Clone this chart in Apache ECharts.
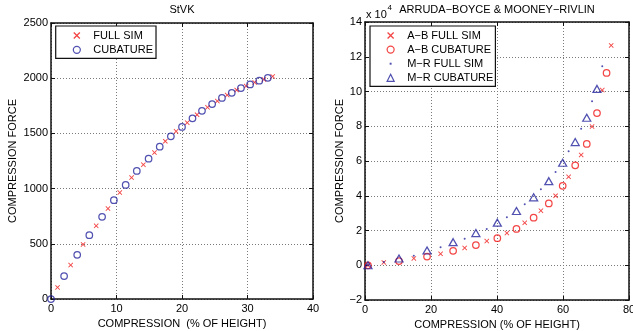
<!DOCTYPE html>
<html><head><meta charset="utf-8">
<script src="https://cdn.jsdelivr.net/npm/echarts@6/dist/echarts.min.js"></script>
<style>html,body{margin:0;padding:0;background:#fff}#c{width:633px;height:331px}</style>
</head><body><div id="c"></div>
<script>
// ---- StVK (left) ----
const stvkFullX = [1.0, 3.0, 4.9, 6.9, 8.7, 10.5, 12.3, 14.1, 15.8, 17.45, 19.1, 20.8, 22.3, 23.9, 25.4, 26.9, 28.35, 29.8, 31.1, 32.5, 33.85];
const stvkFullY = [105, 307, 494, 663, 819, 964, 1100, 1217, 1326, 1429, 1519, 1597, 1669, 1736, 1793, 1847, 1893, 1929, 1962, 1989, 2016];
const stvkCubX = [0, 2.0, 4.0, 5.85, 7.8, 9.6, 11.4, 13.1, 14.9, 16.6, 18.3, 20.0, 21.6, 23.05, 24.6, 26.1, 27.6, 29.0, 30.4, 31.8, 33.1];
const stvkCubY = [0, 208, 400, 578, 744, 895, 1033, 1160, 1271, 1380, 1474, 1558, 1637, 1705, 1766, 1821, 1868, 1911, 1944, 1977, 2004];
// ---- Arruda-Boyce & Mooney-Rivlin (right), force in units of 1e4 ----
const abFullX = [0.9, 5.7, 14.8, 22.9, 30.2, 36.9, 43.0, 48.4, 53.3, 57.75, 61.7, 65.5, 68.8, 71.9, 74.6];
const abFullY = [0, 0.16, 0.39, 0.66, 1.0, 1.39, 1.85, 2.44, 3.14, 4.0, 5.09, 6.35, 7.98, 10.08, 12.65];
const abCubX = [0.9, 10.3, 18.8, 26.7, 33.6, 40.1, 45.9, 51.1, 55.7, 59.9, 63.7, 67.2, 70.3, 73.2];
const abCubY = [0, 0.24, 0.5, 0.83, 1.16, 1.56, 2.09, 2.74, 3.56, 4.57, 5.75, 6.98, 8.76, 11.07];
const mrFullX = [0.9, 5.7, 14.8, 22.9, 30.2, 36.9, 43.0, 48.4, 53.3, 57.75, 61.7, 65.5, 68.8, 71.9];
const mrFullY = [0, 0.18, 0.55, 1.03, 1.52, 2.09, 2.76, 3.51, 4.37, 5.36, 6.56, 7.86, 9.44, 11.45];
const mrCubX = [0.9, 10.3, 18.8, 26.7, 33.6, 40.1, 45.9, 51.1, 55.7, 59.9, 63.7, 67.2, 70.3];
const mrCubY = [0, 0.39, 0.85, 1.33, 1.85, 2.45, 3.12, 3.91, 4.84, 5.9, 7.09, 8.49, 10.15];
// ---- tick labels ----
const leftXTicks = [0, 10, 20, 30, 40];
const leftYTicks = [0, 500, 1000, 1500, 2000, 2500];
const rightXTicks = [0, 20, 40, 60, 80];
const rightYTicks = [-2, 0, 2, 4, 6, 8, 10, 12, 14];

const RED = '#f01818', BLUE = '#26269e';
const FONT = 'Liberation Sans';
const CROSS = 'path://M0,1.3L1.3,0L5,3.7L8.7,0L10,1.3L6.3,5L10,8.7L8.7,10L5,6.3L1.3,10L0,8.7L3.7,5Z';
const DOT_ICON = 'path://M0,0M10,10M3.6,3.6L6.4,3.6L6.4,6.4L3.6,6.4Z';
const zip = (xs, ys) => xs.map((x, i) => [x, ys[i]]);
const minus = v => String(v).replace('-', '\u2212');

function axisPair(ticks, gridIndex, isX, name, nameGap) {
  const base = {
    type: 'value', gridIndex, min: ticks[0], max: ticks[ticks.length - 1],
    interval: ticks[1] - ticks[0],
    axisLine: { show: true, onZero: false, lineStyle: { color: '#111', width: 1.5 } },
    axisTick: { show: true, inside: true, length: 4, lineStyle: { color: '#111' } },
  };
  const main = Object.assign({}, base, {
    position: isX ? 'bottom' : 'left',
    axisLabel: { color: '#000', fontFamily: FONT, fontSize: 11, margin: isX ? 4 : 3, formatter: minus },
    splitLine: { show: true, lineStyle: { color: '#7a7a7a', type: [1, 2], width: 1 } },
    name: name, nameLocation: 'middle', nameGap: nameGap,
    nameTextStyle: { color: '#000', fontFamily: FONT, fontSize: 11 }
  });
  const sec = Object.assign({}, base, {
    position: isX ? 'top' : 'right',
    axisLabel: { show: false }, splitLine: { show: false }
  });
  return [main, sec];
}

const [lx, lx2] = axisPair(leftXTicks, 0, true, 'COMPRESSION  (% OF HEIGHT)', 17);
const [ly, ly2] = axisPair(leftYTicks, 0, false, 'COMPRESSION FORCE', 33);
const [rx, rx2] = axisPair(rightXTicks, 1, true, 'COMPRESSION (% OF HEIGHT)', 17);
const [ry, ry2] = axisPair(rightYTicks, 1, false, 'COMPRESSION FORCE', 20);

const hollow = c => ({ color: 'transparent', borderColor: c, borderWidth: 1.25 });
const legendText = { fontFamily: FONT, fontSize: 11, color: '#000', padding: [0, 0, 0, 8] };
const titleText = size => ({ fontFamily: FONT, fontSize: size, fontWeight: 'normal', color: '#000' });

const option = {
  animation: false,
  backgroundColor: '#fff',
  title: [
    { text: 'StVK', left: 182, top: 4, textAlign: 'center', padding: 0, textStyle: titleText(11) },
    { text: 'ARRUDA\u2212BOYCE & MOONEY\u2212RIVLIN', left: 497, top: 4, textAlign: 'center', padding: 0, textStyle: titleText(11) },
    { text: 'x 10', left: 366, top: 9, padding: 0, textStyle: titleText(11) },
    { text: '4', left: 387.5, top: 4, padding: 0, textStyle: titleText(8) }
  ],
  grid: [
    { left: 51, top: 23, width: 262, height: 276, outerBoundsMode: 'none', containLabel: false },
    { left: 365, top: 22, width: 264, height: 278, outerBoundsMode: 'none', containLabel: false }
  ],
  xAxis: [lx, lx2, rx, rx2],
  yAxis: [ly, ly2, ry, ry2],
  legend: [
    { orient: 'vertical', left: 55.7, top: 26, padding: [4, 3, 3, 17],
      itemWidth: 7, itemHeight: 7, itemGap: 3.3,
      borderColor: '#111', borderWidth: 1.2, backgroundColor: '#fff',
      textStyle: legendText,
      data: [
        { name: 'FULL SIM', icon: CROSS, itemStyle: { color: RED } },
        { name: 'CUBATURE', icon: 'circle', itemStyle: hollow(BLUE) }
      ] },
    { orient: 'vertical', left: 370, top: 26, padding: [4, 2, 3, 16.5],
      itemWidth: 7, itemHeight: 7, itemGap: 3.1,
      borderColor: '#111', borderWidth: 1.2, backgroundColor: '#fff',
      textStyle: legendText,
      data: [
        { name: 'A\u2212B FULL SIM', icon: CROSS, itemStyle: { color: RED } },
        { name: 'A\u2212B CUBATURE', icon: 'circle', itemStyle: hollow(RED) },
        { name: 'M\u2212R FULL SIM', icon: DOT_ICON, itemStyle: { color: BLUE } },
        { name: 'M\u2212R CUBATURE', icon: 'triangle', itemStyle: hollow(BLUE) }
      ] }
  ],
  series: [
    { name: 'FULL SIM', type: 'scatter', xAxisIndex: 0, yAxisIndex: 0, symbol: CROSS, symbolSize: 5,
      itemStyle: { color: RED }, data: zip(stvkFullX, stvkFullY) },
    { name: 'CUBATURE', type: 'scatter', xAxisIndex: 0, yAxisIndex: 0, symbol: 'circle', symbolSize: 6.5,
      itemStyle: hollow(BLUE), data: zip(stvkCubX, stvkCubY) },
    { name: 'A\u2212B FULL SIM', type: 'scatter', xAxisIndex: 2, yAxisIndex: 2, symbol: CROSS, symbolSize: 5,
      itemStyle: { color: RED }, data: zip(abFullX, abFullY) },
    { name: 'A\u2212B CUBATURE', type: 'scatter', xAxisIndex: 2, yAxisIndex: 2, symbol: 'circle', symbolSize: 6.5,
      itemStyle: hollow(RED), data: zip(abCubX, abCubY) },
    { name: 'M\u2212R FULL SIM', type: 'scatter', xAxisIndex: 2, yAxisIndex: 2, symbol: 'circle', symbolSize: 2,
      itemStyle: { color: BLUE }, data: zip(mrFullX, mrFullY) },
    { name: 'M\u2212R CUBATURE', type: 'scatter', xAxisIndex: 2, yAxisIndex: 2, symbol: 'triangle', symbolSize: [8, 7],
      itemStyle: hollow(BLUE), data: zip(mrCubX, mrCubY) }
  ]
};

const chart = echarts.init(document.getElementById('c'), null, { renderer: 'canvas' });
chart.setOption(option);
</script>
</body></html>
